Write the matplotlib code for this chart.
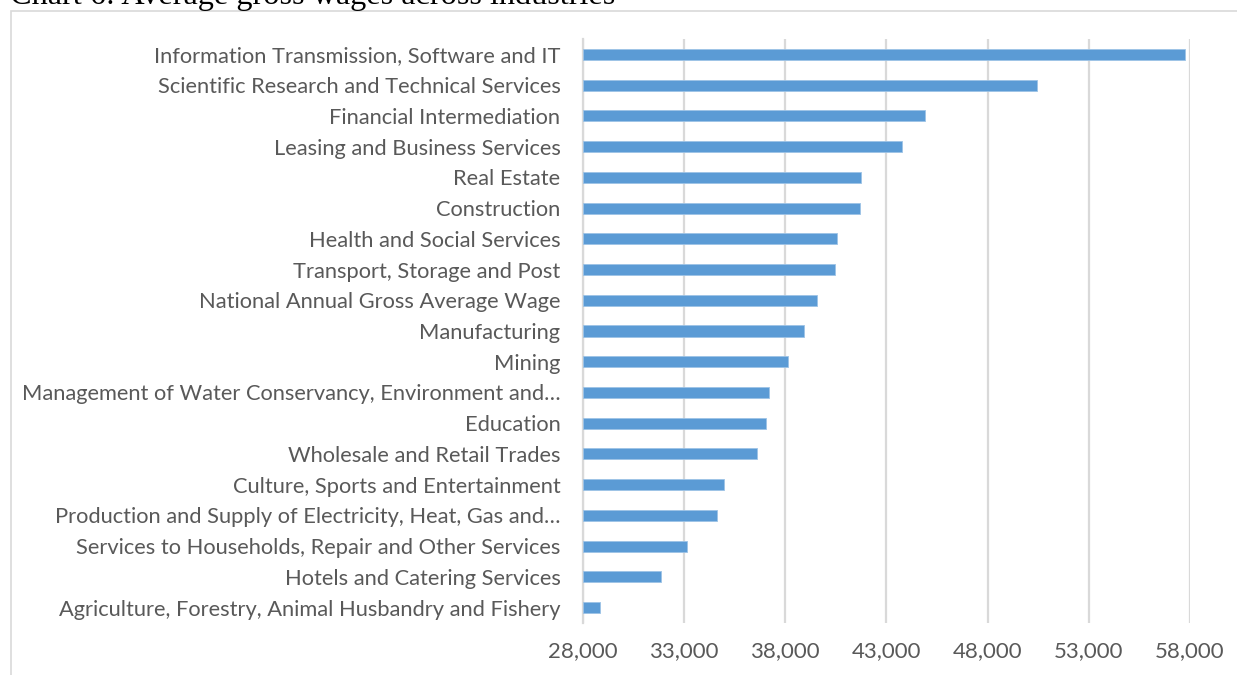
import matplotlib
matplotlib.use("Agg")
import matplotlib.pyplot as plt
from matplotlib.patches import Rectangle
from matplotlib.ticker import FuncFormatter

# Average gross annual wage by industry (top to bottom as shown)
industries = [
    "Information Transmission, Software and IT",
    "Scientific Research and Technical Services",
    "Financial Intermediation",
    "Leasing and Business Services",
    "Real Estate",
    "Construction",
    "Health and Social Services",
    "Transport, Storage and Post",
    "National Annual Gross Average Wage",
    "Manufacturing",
    "Mining",
    "Management of Water Conservancy, Environment and\u2026",
    "Education",
    "Wholesale and Retail Trades",
    "Culture, Sports and Entertainment",
    "Production and Supply of Electricity, Heat, Gas and\u2026",
    "Services to Households, Repair and Other Services",
    "Hotels and Catering Services",
    "Agriculture, Forestry, Animal Husbandry and Fishery",
]
wages = [57730, 50440, 44910, 43790, 41760, 41700, 40545, 40480, 39555,
         38925, 38165, 37207, 37040, 36612, 34958, 34645, 33174, 31884, 28843]
xticks = [28000, 33000, 38000, 43000, 48000, 53000, 58000]

W, H = 1237, 675
fig = plt.figure(figsize=(W / 100, H / 100), dpi=100)

# chart frame
fig.patches.append(Rectangle((11 / W, -0.1), 1.1, (H - 11) / H + 0.1,
                             transform=fig.transFigure, fill=False,
                             edgecolor="#d9d9d9", linewidth=1.2))

# title, cut off at the top edge
fig.text(10 / W, 1 - 4 / H, "Chart 6: Average gross wages across industries",
         family="Liberation Serif", fontsize=23.2, color="black",
         ha="left", va="baseline")

ax = fig.add_axes([582.7 / W, 52 / H, (1190 - 582.7) / W, (623 - 39) / H])
ypos = list(range(len(industries)))
ax.barh(ypos, [w - 28000 for w in wages], left=28000, height=0.36,
        color="#5b9bd5", edgecolor="#9dc3e6", linewidth=0.6, zorder=3)

ax.set_xlim(28000, 58000)
ax.set_ylim(len(industries) - 0.5, -0.5)
ax.set_xticks(xticks)
ax.xaxis.set_major_formatter(FuncFormatter(lambda v, p: f"{v:,.0f}"))
ax.set_yticks(ypos)
ax.set_yticklabels(industries)
ax.grid(axis="x", color="#d9d9d9", linewidth=1.6, zorder=0)

for s in ["top", "right", "bottom"]:
    ax.spines[s].set_visible(False)
ax.spines["left"].set_color("#d9d9d9")
ax.spines["left"].set_linewidth(1.6)

ax.tick_params(axis="y", length=0, pad=16, labelsize=15.75, labelcolor="#595959")
ax.tick_params(axis="x", length=0, pad=13, labelsize=16, labelcolor="#595959")
for lab in ax.get_xticklabels() + ax.get_yticklabels():
    lab.set_family("Lato")

fig.savefig("out.png", dpi=100)
